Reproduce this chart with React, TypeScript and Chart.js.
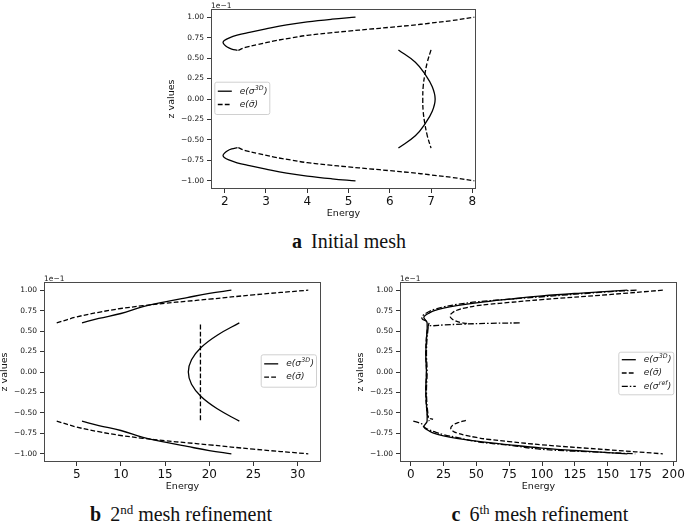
import React, { useEffect, useRef } from "react";
import { Chart, registerables } from "chart.js";

Chart.register(...registerables);
Chart.defaults.font.family = '"DejaVu Sans", sans-serif';
Chart.defaults.color = "#222";

// ---------------- shared tick labels ----------------
const zTicks = [-1.0, -0.75, -0.5, -0.25, 0, 0.25, 0.5, 0.75, 1.0];
const zExponentLabel = "1e\u22121";
const axisTitleX = "Energy";
const axisTitleZ = "z values";

// ---------------- panel a: Initial mesh ----------------
const aEnergyTicks = [2, 3, 4, 5, 6, 7, 8];
const aSolidTopX = [5.17, 4.6, 4.0, 3.5, 3.0, 2.6, 2.3, 2.1, 1.99, 1.96, 1.99, 2.06, 2.17, 2.31];
const aSolidTopZ = [1.0, 0.975, 0.942, 0.905, 0.857, 0.815, 0.78, 0.745, 0.715, 0.69, 0.665, 0.635, 0.61, 0.595];
const aSolidBotX = [5.17, 4.6, 4.0, 3.5, 3.0, 2.6, 2.3, 2.1, 1.99, 1.96, 1.99, 2.06, 2.17, 2.31];
const aSolidBotZ = [-1.0, -0.975, -0.942, -0.905, -0.857, -0.815, -0.78, -0.745, -0.715, -0.69, -0.665, -0.635, -0.61, -0.595];
const aSolidMidX = [6.21, 6.62, 6.86, 7.03, 7.1, 7.03, 6.86, 6.62, 6.21];
const aSolidMidZ = [0.6, 0.45, 0.3, 0.15, 0, -0.15, -0.3, -0.45, -0.6];
const aDashTopX = [2.33, 2.5, 2.8, 3.2, 3.6, 4.0, 4.5, 5.0, 5.5, 6.0, 6.5, 7.0, 7.5, 8.05];
const aDashTopZ = [0.595, 0.63, 0.665, 0.71, 0.745, 0.778, 0.806, 0.83, 0.853, 0.876, 0.9, 0.928, 0.958, 1.0];
const aDashBotX = [2.33, 2.5, 2.8, 3.2, 3.6, 4.0, 4.5, 5.0, 5.5, 6.0, 6.5, 7.0, 7.5, 8.05];
const aDashBotZ = [-0.595, -0.63, -0.665, -0.71, -0.745, -0.778, -0.806, -0.83, -0.853, -0.876, -0.9, -0.928, -0.958, -1.0];
const aDashMidX = [7.0, 6.91, 6.85, 6.81, 6.8, 6.81, 6.85, 6.91, 7.0];
const aDashMidZ = [0.6, 0.45, 0.3, 0.15, 0, -0.15, -0.3, -0.45, -0.6];

// ---------------- panel b: 2nd mesh refinement ----------------
const bEnergyTicks = [5, 10, 15, 20, 25, 30];
const bSolidTopX = [5.6, 7.5, 10, 12.5, 15, 17.5, 20, 22.5];
const bSolidTopZ = [0.6, 0.655, 0.715, 0.8, 0.858, 0.91, 0.96, 1.0];
const bSolidBotX = [5.6, 7.5, 10, 12.5, 15, 17.5, 20, 22.5];
const bSolidBotZ = [-0.6, -0.655, -0.715, -0.8, -0.858, -0.91, -0.96, -1.0];
const bSolidMidX = [23.4, 20.9, 19.07, 17.99, 17.63, 17.99, 19.07, 20.9, 23.4];
const bSolidMidZ = [0.6, 0.45, 0.3, 0.15, 0, -0.15, -0.3, -0.45, -0.6];
const bDashTopX = [2.74, 5, 7.5, 10, 12.5, 15, 17.5, 20, 25, 31.2];
const bDashTopZ = [0.6, 0.673, 0.73, 0.776, 0.81, 0.84, 0.865, 0.89, 0.943, 1.0];
const bDashBotX = [2.74, 5, 7.5, 10, 12.5, 15, 17.5, 20, 25, 31.2];
const bDashBotZ = [-0.6, -0.673, -0.73, -0.776, -0.81, -0.84, -0.865, -0.89, -0.943, -1.0];
const bDashMidX = [19.0, 19.0];
const bDashMidZ = [0.58, -0.6];

// ---------------- panel c: 6th mesh refinement ----------------
const cEnergyTicks = [0, 25, 50, 75, 100, 125, 150, 175, 200];
const cSolidX = [165, 130, 100, 75, 50, 35, 25, 18, 14, 11, 10, 11, 12.5, 12, 11.5, 12, 11.5, 12, 12.5, 11, 10, 11, 14, 18, 25, 35, 50, 75, 100, 130, 165];
const cSolidZ = [1.0, 0.965, 0.93, 0.89, 0.845, 0.81, 0.78, 0.75, 0.72, 0.69, 0.665, 0.64, 0.6, 0.4, 0.2, 0, -0.2, -0.4, -0.6, -0.64, -0.665, -0.69, -0.72, -0.75, -0.78, -0.81, -0.845, -0.89, -0.93, -0.965, -1.0];
const cDashTopX = [192, 150, 100, 75, 60, 50, 42, 36, 32, 30, 31, 34, 38, 44];
const cDashTopZ = [1.0, 0.945, 0.885, 0.85, 0.828, 0.81, 0.785, 0.76, 0.728, 0.69, 0.655, 0.625, 0.605, 0.59];
const cDashMidX = [14, 12.5, 11.5, 12, 11.5, 12.5, 14];
const cDashMidZ = [0.6, 0.5, 0.25, 0, -0.25, -0.5, -0.6];
const cDashBotX = [42, 36, 32, 30.5, 32, 36, 42, 50, 60, 75, 100, 150, 192];
const cDashBotZ = [-0.59, -0.62, -0.65, -0.685, -0.72, -0.75, -0.775, -0.8, -0.825, -0.85, -0.89, -0.95, -1.0];
const cRefTopX = [172, 150, 100, 75, 50, 35, 25, 18, 13, 10, 8.5, 9, 11, 13];
const cRefTopZ = [1.0, 0.98, 0.92, 0.89, 0.857, 0.825, 0.796, 0.765, 0.73, 0.7, 0.67, 0.645, 0.63, 0.62];
const cRefMidX = [83, 60, 40, 25, 17, 14, 13, 12, 12.5, 12, 13, 14, 17];
const cRefMidZ = [0.6, 0.595, 0.585, 0.575, 0.565, 0.56, 0.5, 0.25, 0, -0.25, -0.5, -0.56, -0.58];
const cRefBotX = [2, 6, 9, 10, 13, 18, 25, 35, 50, 75, 100, 150, 171];
const cRefBotZ = [-0.6, -0.62, -0.64, -0.67, -0.7, -0.73, -0.765, -0.8, -0.85, -0.895, -0.945, -0.985, -1.0];

// ---------------- styles ----------------
const DASH: Record<string, number[]> = {
  solid: [],
  dashed: [4.8, 2.2],
  dashdot: [6, 2, 1.5, 2],
};

type Seg = { x: number[]; z: number[]; style: string };
type LegendRow = { style: string; base: string; sup: string; tail: string };
type Panel = {
  key: string;
  area: { left: number; top: number; right: number; bottom: number };
  xMin: number;
  xMax: number;
  xTicks: number[];
  segs: Seg[];
  legend: { dx: number; dy: number; w: number; h: number; rows: LegendRow[] };
};

const rowSolid: LegendRow = { style: "solid", base: "e(\u03c3", sup: "3D", tail: ")" };
const rowDashed: LegendRow = { style: "dashed", base: "e(\u03c3\u0304", sup: "", tail: ")" };
const rowRef: LegendRow = { style: "dashdot", base: "e(\u03c3", sup: "ref", tail: ")" };

const panels: Panel[] = [
  {
    key: "a",
    area: { left: 211, top: 9, right: 476, bottom: 189 },
    xMin: 1.668,
    xMax: 8.09,
    xTicks: aEnergyTicks,
    segs: [
      { x: aSolidTopX, z: aSolidTopZ, style: "solid" },
      { x: aSolidBotX, z: aSolidBotZ, style: "solid" },
      { x: aSolidMidX, z: aSolidMidZ, style: "solid" },
      { x: aDashTopX, z: aDashTopZ, style: "dashed" },
      { x: aDashBotX, z: aDashBotZ, style: "dashed" },
      { x: aDashMidX, z: aDashMidZ, style: "dashed" },
    ],
    legend: { dx: 3.3, dy: 72.7, w: 55, h: 32.3, rows: [rowSolid, rowDashed] },
  },
  {
    key: "b",
    area: { left: 44, top: 282, right: 321, bottom: 462 },
    xMin: 1.3,
    xMax: 32.64,
    xTicks: bEnergyTicks,
    segs: [
      { x: bSolidTopX, z: bSolidTopZ, style: "solid" },
      { x: bSolidBotX, z: bSolidBotZ, style: "solid" },
      { x: bSolidMidX, z: bSolidMidZ, style: "solid" },
      { x: bDashTopX, z: bDashTopZ, style: "dashed" },
      { x: bDashBotX, z: bDashBotZ, style: "dashed" },
      { x: bDashMidX, z: bDashMidZ, style: "dashed" },
    ],
    legend: { dx: 216.7, dy: 72.3, w: 55.3, h: 32.4, rows: [rowSolid, rowDashed] },
  },
  {
    key: "c",
    area: { left: 400, top: 282, right: 677, bottom: 462 },
    xMin: -8.15,
    xMax: 202.8,
    xTicks: cEnergyTicks,
    segs: [
      { x: cSolidX, z: cSolidZ, style: "solid" },
      { x: cDashTopX, z: cDashTopZ, style: "dashed" },
      { x: cDashMidX, z: cDashMidZ, style: "dashed" },
      { x: cDashBotX, z: cDashBotZ, style: "dashed" },
      { x: cRefTopX, z: cRefTopZ, style: "dashdot" },
      { x: cRefMidX, z: cRefMidZ, style: "dashdot" },
      { x: cRefBotX, z: cRefBotZ, style: "dashdot" },
    ],
    legend: { dx: 218.3, dy: 69.7, w: 55, h: 42.6, rows: [rowSolid, rowDashed, rowRef] },
  },
];

const YW = 50; // y-axis box width
const XH = 40; // x-axis box height
const PAD_T = 14;
const PAD_R = 16;

function fmtZ(v: number) {
  const s = Math.abs(v).toFixed(2);
  return v < -1e-9 ? "\u2212" + s : s;
}

function makeDecor(p: Panel) {
  return {
    id: "decor" + p.key,
    afterDraw(chart: any) {
      const { ctx, chartArea: a } = chart;
      ctx.save();
      // frame
      ctx.setLineDash([]);
      ctx.strokeStyle = "#4a4a4a";
      ctx.lineWidth = 1;
      ctx.strokeRect(a.left + 0.5, a.top + 0.5, a.right - a.left - 1, a.bottom - a.top - 1);
      // exponent label
      ctx.fillStyle = "#222";
      ctx.font = '7.5px "DejaVu Sans"';
      ctx.textAlign = "left";
      ctx.textBaseline = "alphabetic";
      ctx.fillText(zExponentLabel, a.left, a.top - 1.5);
      // legend
      const L = p.legend;
      const bx = a.left + L.dx;
      const by = a.top + L.dy;
      ctx.beginPath();
      if ((ctx as any).roundRect) (ctx as any).roundRect(bx + 0.5, by + 0.5, L.w, L.h, 2);
      else ctx.rect(bx + 0.5, by + 0.5, L.w, L.h);
      ctx.fillStyle = "rgba(255,255,255,0.85)";
      ctx.fill();
      ctx.strokeStyle = "#d0d0d0";
      ctx.lineWidth = 1;
      ctx.stroke();
      const n = L.rows.length;
      L.rows.forEach((r, i) => {
        const cy = by + L.h / 2 + (i - (n - 1) / 2) * 13.3;
        ctx.beginPath();
        ctx.setLineDash(DASH[r.style]);
        ctx.strokeStyle = "#000";
        ctx.lineWidth = 1.3;
        ctx.moveTo(bx + 3.5, cy);
        ctx.lineTo(bx + 17.5, cy);
        ctx.stroke();
        ctx.setLineDash([]);
        ctx.fillStyle = "#222";
        ctx.textBaseline = "middle";
        ctx.font = 'italic 9px "DejaVu Sans"';
        let tx = bx + 25.5;
        ctx.fillText(r.base, tx, cy);
        tx += ctx.measureText(r.base).width;
        if (r.sup) {
          ctx.font = 'italic 6.3px "DejaVu Sans"';
          ctx.fillText(r.sup, tx + 0.3, cy - 3.2);
          tx += ctx.measureText(r.sup).width + 0.6;
          ctx.font = 'italic 9px "DejaVu Sans"';
        }
        ctx.fillText(r.tail, tx, cy);
      });
      ctx.restore();
    },
  };
}

function PanelChart({ p }: { p: Panel }) {
  const ref = useRef<HTMLCanvasElement>(null);
  const aw = p.area.right - p.area.left;
  const ah = p.area.bottom - p.area.top;
  const W = YW + aw + PAD_R;
  const H = PAD_T + ah + XH;
  useEffect(() => {
    if (!ref.current) return;
    const datasets = p.segs.map((s) => ({
      data: s.x.map((x, i) => ({ x, y: s.z[i] })),
      showLine: true,
      pointRadius: 0,
      borderColor: "#000",
      borderWidth: 1.3,
      borderDash: DASH[s.style],
      tension: 0.4,
      fill: false,
    }));
    const chart = new Chart(ref.current, {
      type: "scatter",
      data: { datasets },
      options: {
        animation: false,
        responsive: false,
        events: [],
        layout: { padding: { left: 0, top: PAD_T, right: PAD_R, bottom: 0 } },
        plugins: { legend: { display: false }, tooltip: { enabled: false } },
        scales: {
          x: {
            type: "linear",
            min: p.xMin,
            max: p.xMax,
            afterBuildTicks: (s: any) => {
              s.ticks = p.xTicks.map((v) => ({ value: v }));
            },
            afterFit: (s: any) => {
              s.height = XH;
              s.paddingLeft = 0;
              s.paddingRight = 0;
            },
            ticks: {
              autoSkip: false,
              maxRotation: 0,
              padding: 2,
              color: "#111",
              font: { size: 12 },
              callback: (v: any) => String(v),
            },
            grid: { display: true, drawOnChartArea: false, drawTicks: true, tickLength: 4, tickColor: "#333" },
            border: { display: false },
            title: { display: true, text: axisTitleX, font: { size: 9.5 }, color: "#111", padding: { top: 0, bottom: 9.7 } },
          },
          y: {
            type: "linear",
            min: -1.1,
            max: 1.1,
            afterBuildTicks: (s: any) => {
              s.ticks = zTicks.map((v) => ({ value: v }));
            },
            afterFit: (s: any) => {
              s.width = YW;
              s.paddingTop = 0;
              s.paddingBottom = 0;
            },
            ticks: {
              autoSkip: false,
              padding: 3,
              color: "#111",
              font: { size: 7.5 },
              callback: (v: any) => fmtZ(Number(v)),
            },
            grid: { display: true, drawOnChartArea: false, drawTicks: true, tickLength: 4, tickColor: "#333" },
            border: { display: false },
            title: { display: true, text: axisTitleZ, font: { size: 9.5 }, color: "#111", padding: { top: 5, bottom: 0 } },
          },
        },
      },
      plugins: [makeDecor(p)],
    } as any);
    return () => chart.destroy();
  }, []);
  return (
    <canvas
      ref={ref}
      width={W}
      height={H}
      style={{ position: "absolute", left: p.area.left - YW, top: p.area.top - PAD_T, width: W, height: H }}
    />
  );
}

const capStyle: React.CSSProperties = {
  position: "absolute",
  transform: "translate(-50%, -50%)",
  fontFamily: '"Liberation Serif", serif',
  fontSize: 20,
  color: "#111",
  whiteSpace: "nowrap",
  lineHeight: 1,
};
const supStyle: React.CSSProperties = { fontSize: 13, position: "relative", top: -7, verticalAlign: "baseline" };

export default function App() {
  return (
    <div style={{ position: "absolute", left: 0, top: 0, width: 685, height: 525, background: "#fff", overflow: "hidden" }}>
      {panels.map((p) => (
        <PanelChart key={p.key} p={p} />
      ))}
      <div style={{ ...capStyle, left: 349, top: 241 }}>
        <b style={{ marginRight: 9 }}>a</b>Initial mesh
      </div>
      <div style={{ ...capStyle, left: 181, top: 514 }}>
        <b style={{ marginRight: 9 }}>b</b>2<span style={supStyle}>nd</span> mesh refinement
      </div>
      <div style={{ ...capStyle, left: 540, top: 514 }}>
        <b style={{ marginRight: 9 }}>c</b>6<span style={supStyle}>th</span> mesh refinement
      </div>
    </div>
  );
}
